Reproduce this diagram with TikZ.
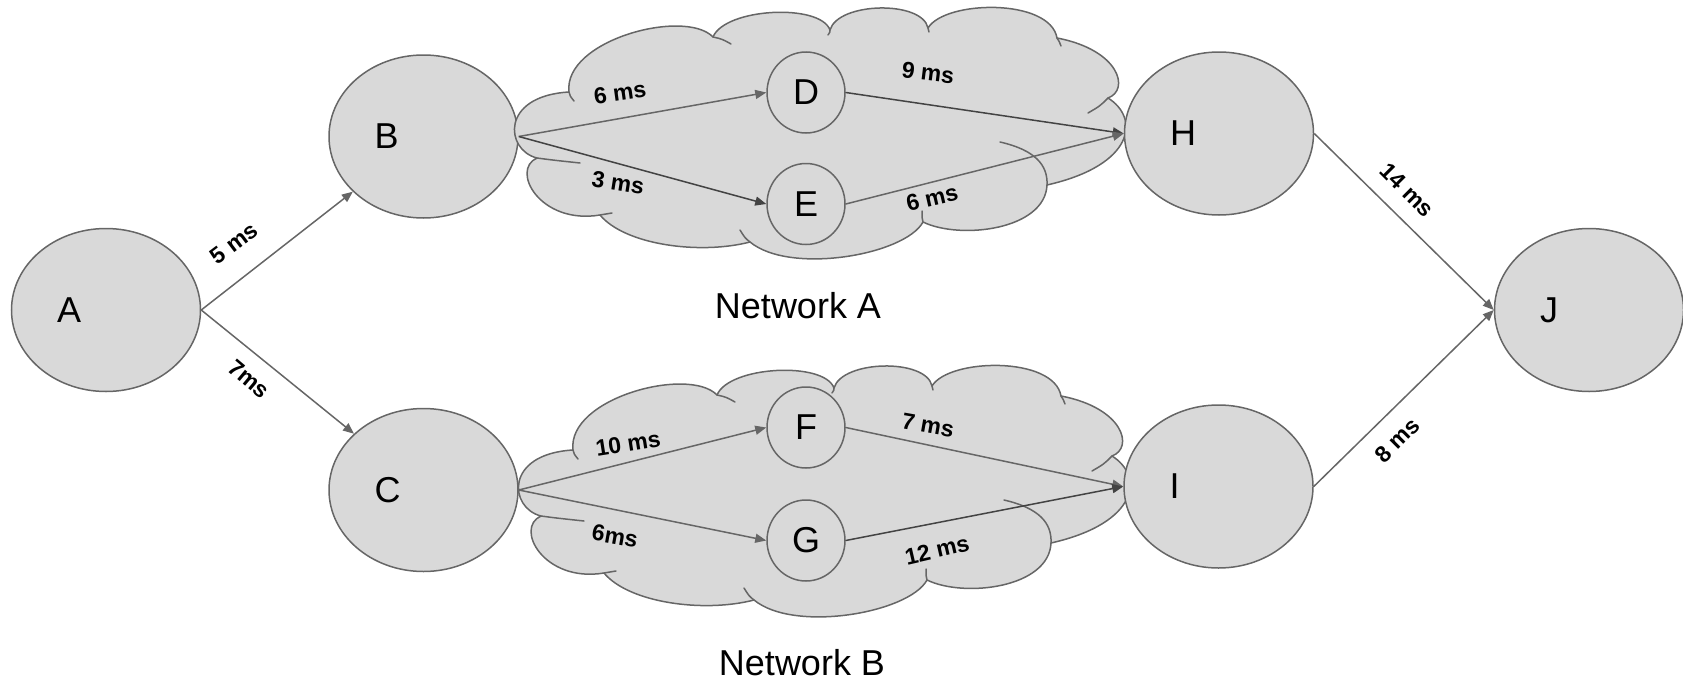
\documentclass[tikz,border=0pt]{standalone}
\usepackage{fontspec}
\setmainfont{Liberation Sans}
\usetikzlibrary{arrows.meta,shapes.geometric}
\definecolor{nodefill}{HTML}{D9D9D9}
\definecolor{edgegray}{HTML}{666666}
\definecolor{darkedge}{HTML}{434343}
\newcommand{\myCloudOutline}{%
  (537,158)
  .. controls (505,150) and (500,96) .. (569,92)
  .. controls (563,40) and (685,8) .. (713,37)
  .. controls (725,8) and (820,3) .. (830,30)
  .. controls (838,2) and (922,0) .. (928,28)
  .. controls (945,0) and (1050,-2) .. (1057,38)
  .. controls (1120,50) and (1130,90) .. (1108,98)
  .. controls (1140,118) and (1135,165) .. (1047,185)
  .. controls (1045,230) and (960,240) .. (923,222)
  .. controls (905,255) and (790,275) .. (750,242)
  .. controls (700,255) and (625,245) .. (600,215)
  .. controls (540,225) and (510,170) .. (537,158) -- cycle}
\newcommand{\myCloudInner}{%
  \draw[cloudline] (569,92) .. controls (570,96) .. (574,101);
  \draw[cloudline] (713,37) .. controls (722,39) .. (731,44);
  \draw[cloudline] (830,30) .. controls (830,32) .. (828,35);
  \draw[cloudline] (928,28) -- (929,32);
  \draw[cloudline] (1057,38) .. controls (1059,41) .. (1061,46);
  \draw[cloudline] (1108,98) .. controls (1100,106) .. (1088,113);
  \draw[cloudline] (1000,142) .. controls (1035,150) and (1048,165) .. (1047,185);
  \draw[cloudline] (923,222) .. controls (922,218) .. (922,211);
  \draw[cloudline] (750,242) .. controls (745,238) .. (740,230);
  \draw[cloudline] (600,215) -- (612,213);
  \draw[cloudline] (537,158) .. controls (552,160) .. (580,163);}
\begin{document}
\begin{tikzpicture}[x=1pt,y=-1pt,
  bignode/.style={ellipse, draw=edgegray, fill=nodefill, line width=1.5pt,
    minimum width=189pt, minimum height=163pt, text width=98pt, align=left,
    inner sep=0pt, font=\fontsize{36}{40}\selectfont},
  smallnode/.style={ellipse, draw=edgegray, fill=nodefill, line width=1.5pt,
    minimum width=78pt, minimum height=81pt, inner sep=0pt,
    font=\fontsize{36}{40}\selectfont},
  cloudshape/.style={draw=edgegray, fill=nodefill, line width=1.5pt, line join=round},
  cloudline/.style={draw=edgegray, line width=1.5pt, line cap=round},
  link/.style={draw=edgegray, line width=1.5pt, -{Triangle[length=11pt,width=9pt]}},
  darklink/.style={link, draw=darkedge},
  lbl/.style={font=\bfseries\fontsize{23}{26}\selectfont, inner sep=0pt},
  netcaption/.style={font=\fontsize{36}{40}\selectfont, inner sep=0pt, anchor=base}
]
\useasboundingbox (0,0) rectangle (1683,680);

\node[bignode] (B) at (423.5,136.5) {B};
\node[bignode] (C) at (423.5,490) {C};

% clouds
\draw[cloudshape] \myCloudOutline;
\myCloudInner
\begin{scope}[shift={(4,358)}]
  \draw[cloudshape] \myCloudOutline;
  \myCloudInner
\end{scope}

\node[bignode] (A) at (106,310) {A};
\node[bignode] (H) at (1219,133.5) {H};
\node[bignode] (I) at (1218.5,486.5) {I};
\node[bignode] (J) at (1589,310) {J};
\node[smallnode] (D) at (806,92.5) {D};
\node[smallnode] (E) at (806,204) {E};
\node[smallnode] (F) at (806,427.5) {F};
\node[smallnode] (G) at (806,540.5) {G};

\draw[link] (A.east) -- (B);
\draw[link] (A.east) -- (C);
\draw[link] (B.east) -- (D.west);
\draw[darklink] (B.east) -- (E.west);
\draw[darklink] (D.east) -- (H.west);
\draw[link] (E.east) -- (H.west);
\draw[link] (C.east) -- (F.west);
\draw[link] (C.east) -- (G.west);
\draw[link] (F.east) -- (I.west);
\draw[darklink] (G.east) -- (I.west);
\draw[link] (H.east) -- (J.west);
\draw[link] (I.east) -- (J.west);

\node[lbl, rotate=37] (lab) at (234,243) {5 ms};
\node[lbl, rotate=-40] (lac) at (249,379) {7ms};
\node[lbl, rotate=8] (lbd) at (620,93) {6 ms};
\node[lbl, rotate=-9] (lbe) at (618,183) {3 ms};
\node[lbl, rotate=-7] (ldh) at (928,73) {9 ms};
\node[lbl, rotate=13] (leh) at (932,198) {6 ms};
\node[lbl, rotate=9] (lcf) at (628,444) {10 ms};
\node[lbl, rotate=-10] (lcg) at (615,536) {6ms};
\node[lbl, rotate=-10] (lfi) at (928,425) {7 ms};
\node[lbl, rotate=13] (lgi) at (937,550) {12 ms};
\node[lbl, rotate=-45] (lhj) at (1407,190) {14 ms};
\node[lbl, rotate=45] (lij) at (1397,440) {8 ms};

\node[netcaption] (netA) at (798,318) {Network A};
\node[netcaption] (netB) at (802,675) {Network B};
\end{tikzpicture}
\end{document}
